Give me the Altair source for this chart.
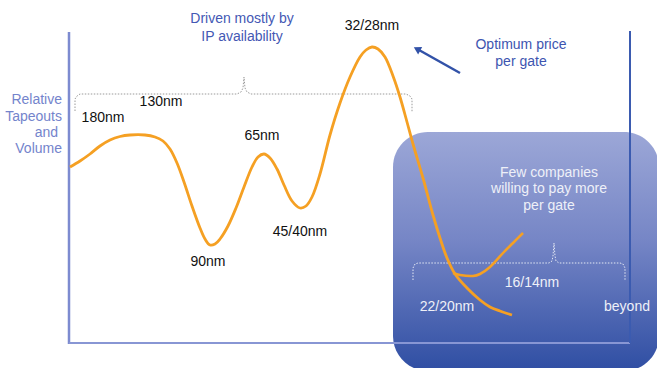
import altair as alt
import pandas as pd

W, H = 657, 368

# ---- data (diagram coordinates, y grows downward) ----
curve_x = [70, 80, 90, 100, 110, 120, 130, 145, 155, 163, 170, 177, 184, 192, 200, 205, 210,
           215, 220, 228, 236, 244, 252, 258, 264, 270, 277, 284, 292, 300, 306, 312, 320,
           330, 340, 350, 360, 366, 372, 378, 385, 393, 400, 407, 413, 423, 433, 440, 447,
           455, 467, 480, 490, 500, 512]
curve_y = [167, 161, 154, 146, 140, 136.5, 135, 135, 137, 141, 149, 163, 182, 206, 228, 239, 245,
           244, 239, 226, 208, 187, 167, 157, 154, 158, 169, 185, 201, 208, 206, 197, 174,
           135, 103, 77, 57, 50, 47, 49, 57, 76, 97, 122, 144, 178, 215, 238, 258,
           274, 288, 300, 307, 311, 315]

branch_x = [453, 460, 473, 480, 490, 503, 513, 523]
branch_y = [273, 275, 276, 274, 267, 253, 243, 233]

brace1_x = [75, 75, 77, 80, 237, 241, 243, 244, 245, 247, 251, 406, 410, 412, 412]
brace1_y = [111, 99, 96, 94, 94, 92, 88, 77, 88, 92, 94, 94, 96, 99, 112]

brace2_x = [413, 413, 415, 418, 549, 552, 553, 554, 555, 556, 559, 620, 623, 625, 625]
brace2_y = [280, 268, 264, 263, 263, 261, 256, 243, 256, 261, 263, 263, 264, 268, 280]

arrow_x = [460, 419]
arrow_y = [73, 50]

box = dict(x=393, x2=659, y=132, y2=371)

axis_x1 = [69, 69, 630]
axis_y1 = [32, 343, 31]
axis_x2 = [69, 630, 630]
axis_y2 = [344, 343, 343]
axis_col = ["#7d8bd0", "#8896d4", "#3b5bb0"]
axis_w = [2.5, 2, 2]

center_texts = ["Driven mostly by", "IP availability", "32/28nm", "Optimum price", "per gate",
                "130nm", "180nm", "65nm", "90nm", "45/40nm",
                "Few companies", "willing to pay more", "per gate",
                "16/14nm", "22/20nm", "beyond"]
center_x = [242, 242, 372, 521, 521, 161, 103, 262, 208, 300, 549, 549, 549, 532, 447, 627]
center_y = [19, 37, 26, 45, 62, 102, 118, 136, 262, 232, 173, 189, 206, 283, 307, 307]
center_c = ["#4458b4", "#4458b4", "#111111", "#3d55b0", "#3d55b0",
            "#111111", "#111111", "#111111", "#111111", "#111111",
            "#eef0f8", "#eef0f8", "#eef0f8", "#eef0f8", "#eef0f8", "#eef0f8"]

right_texts = ["Relative", "Tapeouts", "and", "Volume"]
right_x = [62, 62, 58, 62]
right_y = [100, 117, 133, 149]

# ---- scales ----
xs = alt.Scale(domain=[0, W], range=[0, W], nice=False, zero=False)
ys = alt.Scale(domain=[0, H], range=[0, H], nice=False, zero=False)
X = lambda f: alt.X(f, type="quantitative", scale=xs, axis=None)
Y = lambda f: alt.Y(f, type="quantitative", scale=ys, axis=None)


def path_df(xv, yv):
    return pd.DataFrame({"x": xv, "y": yv, "i": range(len(xv))})


rect = alt.Chart(pd.DataFrame([box])).mark_rect(
    cornerRadius=35,
    fill=alt.Gradient(gradient="linear", x1=0, x2=0, y1=0, y2=1,
                      stops=[alt.GradientStop(offset=0, color="#9ca7d7"),
                             alt.GradientStop(offset=0.45, color="#7686c6"),
                             alt.GradientStop(offset=1, color="#2f4ea3")]),
).encode(x=X("x"), x2="x2", y=Y("y"), y2="y2")

axes_df = pd.DataFrame({"x": axis_x1, "y": axis_y1, "x2": axis_x2, "y2": axis_y2,
                        "c": axis_col, "w": axis_w})
axes = alt.Chart(axes_df).mark_rule().encode(
    x=X("x"), x2="x2", y=Y("y"), y2="y2",
    color=alt.Color("c:N", scale=None),
    strokeWidth=alt.StrokeWidth("w:Q", scale=None),
)

brace1 = alt.Chart(path_df(brace1_x, brace1_y)).mark_line(
    color="#9a9a9a", strokeWidth=1, strokeDash=[1.5, 1.5]
).encode(x=X("x"), y=Y("y"), order="i:Q")

brace2 = alt.Chart(path_df(brace2_x, brace2_y)).mark_line(
    color="#e4e8f4", strokeWidth=1, strokeDash=[1.5, 1.5]
).encode(x=X("x"), y=Y("y"), order="i:Q")

curve = alt.Chart(path_df(curve_x, curve_y)).mark_line(
    color="#f5a023", strokeWidth=2.8, interpolate="catmull-rom"
).encode(x=X("x"), y=Y("y"), order="i:Q")

branch = alt.Chart(path_df(branch_x, branch_y)).mark_line(
    color="#f5a023", strokeWidth=2.5, interpolate="catmull-rom"
).encode(x=X("x"), y=Y("y"), order="i:Q")

arrow = alt.Chart(path_df(arrow_x, arrow_y)).mark_line(
    color="#3252a8", strokeWidth=2.5
).encode(x=X("x"), y=Y("y"), order="i:Q")

head = alt.Chart(pd.DataFrame({"x": [arrow_x[-1] - 2], "y": [arrow_y[-1] - 1]})).mark_point(
    shape="triangle-up", filled=True, color="#3252a8", size=70, angle=299, opacity=1
).encode(x=X("x"), y=Y("y"))

ctext = alt.Chart(pd.DataFrame({"t": center_texts, "x": center_x, "y": center_y, "c": center_c})).mark_text(
    font="Liberation Sans", fontSize=14, align="center", baseline="middle"
).encode(x=X("x"), y=Y("y"), text="t:N", color=alt.Color("c:N", scale=None))

rtext = alt.Chart(pd.DataFrame({"t": right_texts, "x": right_x, "y": right_y})).mark_text(
    font="Liberation Sans", fontSize=14, align="right", baseline="middle", color="#7484cc"
).encode(x=X("x"), y=Y("y"), text="t:N")

chart = alt.layer(
    rect, axes, brace1, brace2, curve, branch, arrow, head, ctext, rtext
).properties(
    width=W, height=H, padding=0, autosize=alt.AutoSizeParams(type="none"),
    background="white",
).configure_view(stroke=None)

chart.save("out.html", embed_options={"renderer": "svg", "actions": False})
